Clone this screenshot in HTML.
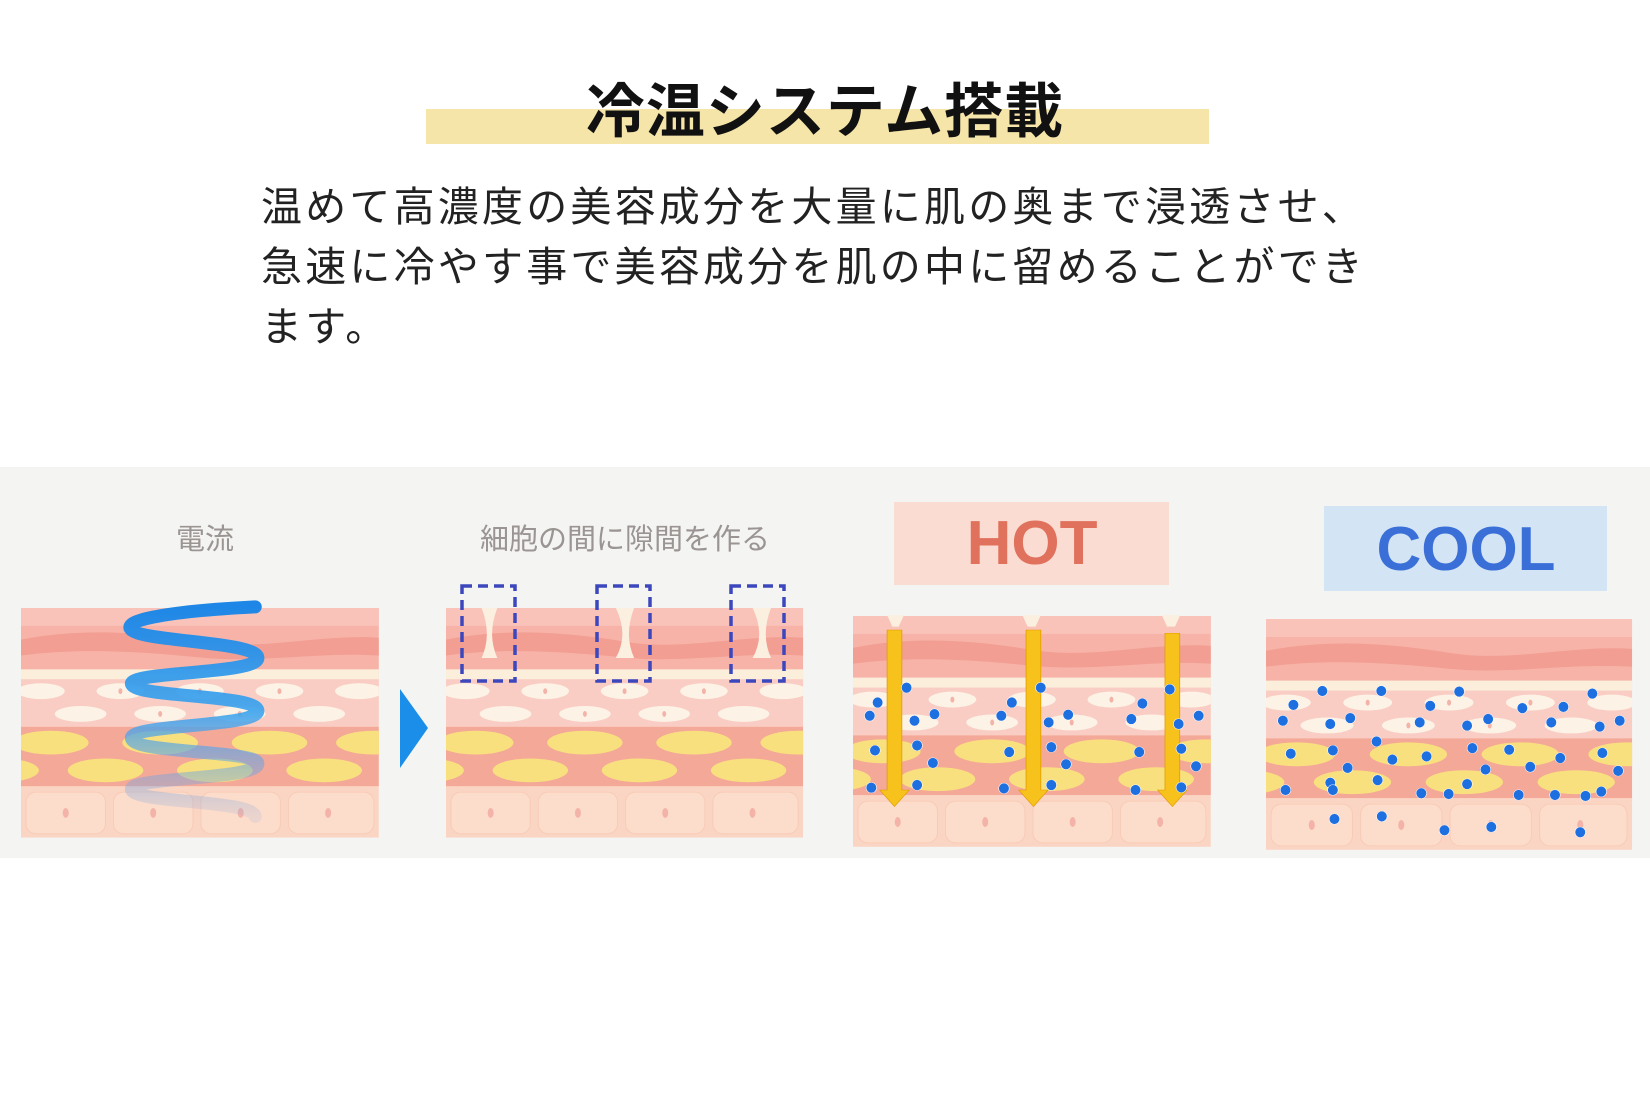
<!DOCTYPE html>
<html><head><meta charset="utf-8"><style>
html,body{margin:0;padding:0;background:#fff;}
body{width:1650px;height:1100px;position:relative;overflow:hidden;font-family:"Liberation Sans","Noto Sans CJK JP",sans-serif;}
.band{position:absolute;left:426px;top:109px;width:783px;height:35px;background:#f6e5a9;}
.title{position:absolute;left:0;width:1650px;top:72px;text-align:center;font-size:59px;font-weight:bold;color:#111;line-height:80px;letter-spacing:1px;}
.para{position:absolute;left:261px;top:177px;font-size:41px;line-height:60px;color:#222;letter-spacing:3.2px;white-space:nowrap;}
svg{position:absolute;left:0;top:0;}
</style></head><body>
<div class="band"></div>
<div class="title">冷温システム搭載</div>
<div class="para">温めて高濃度の美容成分を大量に肌の奥まで浸透させ、<br>急速に冷やす事で美容成分を肌の中に留めることができ<br>ます。</div>
<svg width="1650" height="1100" viewBox="0 0 1650 1100">
<defs>
<clipPath id="cp"><rect x="0" y="0" width="360" height="232"/></clipPath>
<g id="skin" clip-path="url(#cp)">
<rect x="0" y="0" width="360" height="232" fill="#fbd5c3"/>
<rect x="0" y="0" width="360" height="62" fill="#f7b3a8"/>
<rect x="0" y="0" width="360" height="18" fill="#f9c3b9"/>
<path d="M0,32 C60,20 120,24 180,34 C240,44 300,26 360,30 L360,48 C300,44 240,56 180,50 C120,44 60,40 0,48 Z" fill="#f29e92"/>
<rect x="0" y="62" width="360" height="10" fill="#fbefdc"/>
<rect x="0" y="72" width="360" height="48" fill="#f9cdc4"/>
<g fill="#fdf2e6">
<ellipse cx="20" cy="84" rx="24" ry="8"/><ellipse cx="100" cy="84" rx="24" ry="8"/><ellipse cx="180" cy="84" rx="24" ry="8"/><ellipse cx="260" cy="84" rx="24" ry="8"/><ellipse cx="340" cy="84" rx="24" ry="8"/>
<ellipse cx="60" cy="107" rx="26" ry="8"/><ellipse cx="140" cy="107" rx="26" ry="8"/><ellipse cx="220" cy="107" rx="26" ry="8"/><ellipse cx="300" cy="107" rx="26" ry="8"/>
</g>
<rect x="0" y="120" width="360" height="60" fill="#f4a898"/>
<g fill="#f9e07e">
<ellipse cx="30" cy="136" rx="38" ry="12"/><ellipse cx="140" cy="136" rx="38" ry="12"/><ellipse cx="250" cy="136" rx="38" ry="12"/><ellipse cx="355" cy="136" rx="38" ry="12"/>
<ellipse cx="85" cy="164" rx="38" ry="12"/><ellipse cx="195" cy="164" rx="38" ry="12"/><ellipse cx="305" cy="164" rx="38" ry="12"/><ellipse cx="-20" cy="164" rx="38" ry="12"/>
</g>
<g fill="#fcdcca" stroke="#f8cbb6" stroke-width="1">
<rect x="5" y="186" width="80" height="42" rx="10"/><rect x="93" y="186" width="80" height="42" rx="10"/><rect x="181" y="186" width="80" height="42" rx="10"/><rect x="269" y="186" width="86" height="42" rx="10"/>
</g>
<g fill="#f4b3a8"><ellipse cx="45" cy="207" rx="3" ry="5"/><ellipse cx="133" cy="207" rx="3" ry="5"/><ellipse cx="221" cy="207" rx="3" ry="5"/><ellipse cx="309" cy="207" rx="3" ry="5"/>
<ellipse cx="100" cy="84" rx="2" ry="3"/><ellipse cx="180" cy="84" rx="2" ry="3"/><ellipse cx="260" cy="84" rx="2" ry="3"/><ellipse cx="140" cy="107" rx="2" ry="3"/><ellipse cx="220" cy="107" rx="2" ry="3"/></g>
</g>
<linearGradient id="coil" x1="0" y1="0" x2="0" y2="1"><stop offset="0" stop-color="#1e86e6"/><stop offset="0.5" stop-color="#3aa3ee" stop-opacity="0.9"/><stop offset="1" stop-color="#8aa6e0" stop-opacity="0.15"/></linearGradient>
</defs>
<rect x="0" y="467" width="1650" height="391" fill="#f4f4f3"/>
<text x="205" y="549" font-size="29" fill="#9a9492" text-anchor="middle" font-family="Liberation Sans, Noto Sans CJK JP, sans-serif">電流</text>
<text x="625" y="549" font-size="29" fill="#9a9492" text-anchor="middle" font-family="Liberation Sans, Noto Sans CJK JP, sans-serif">細胞の間に隙間を作る</text>
<rect x="894" y="502" width="275" height="83" fill="#fbdcd2"/>
<text x="1032" y="564" font-size="62" fill="#e0715c" text-anchor="middle" font-weight="bold" font-family="Liberation Sans, sans-serif">HOT</text>
<rect x="1324" y="506" width="283" height="85" fill="#d3e5f5"/>
<text x="1466" y="570" font-size="62" fill="#3b6fd8" text-anchor="middle" font-weight="bold" font-family="Liberation Sans, sans-serif">COOL</text>
<use href="#skin" transform="translate(21,608) scale(0.994,0.99)"/>
<use href="#skin" transform="translate(446,608) scale(0.992,0.99)"/>
<use href="#skin" transform="translate(853,616) scale(0.994,0.995)"/>
<use href="#skin" transform="translate(1266,619) scale(1.017,0.995)"/>
<polygon points="400,689 428,728 400,768" fill="#1a8ee8"/>
<g transform="translate(0,460) scale(0.5263,0.330)">
<path d="M485,445 C300,460 230,490 250,515 C270,550 490,550 490,600 C490,650 240,640 250,680 C260,720 490,710 490,760 C490,810 240,800 250,845 C260,890 490,880 490,920 C490,970 240,960 250,1000 C260,1040 480,1030 485,1080" fill="none" stroke="url(#coil)" stroke-width="13" vector-effect="non-scaling-stroke" stroke-linecap="round"/>
<g fill="#fbefe0">
<path d="M915,448 Q935,530 915,600 L945,600 Q925,530 945,448 Z"/>
<path d="M1170,448 Q1195,530 1170,600 L1205,600 Q1185,530 1205,448 Z"/>
<path d="M1430,448 Q1455,530 1430,600 L1465,600 Q1445,530 1465,448 Z"/>
</g>
</g>
<g fill="none" stroke="#3d47bd" stroke-width="3.5" stroke-dasharray="10,6">
<rect x="462" y="586" width="53" height="95"/><rect x="597" y="586" width="53" height="95"/><rect x="731" y="586" width="53" height="95"/>
</g>
<g transform="translate(825,460) scale(0.5263,0.330)">
<g fill="#fbefe0"><path d="M118,470 L128,505 L140,505 L150,470 Z"/><path d="M375,470 L385,505 L400,505 L410,470 Z"/><path d="M640,470 L650,505 L665,505 L675,470 Z"/></g>
<g fill="#f7c21c" stroke="#e09c00" stroke-width="1.5" vector-effect="non-scaling-stroke">
<path d="M118,515 L146,515 L146,1000 L160,1000 L132,1050 L104,1000 L118,1000 Z"/>
<path d="M382,515 L410,515 L410,1000 L424,1000 L396,1050 L368,1000 L382,1000 Z"/>
<path d="M646,525 L674,525 L674,1000 L688,1000 L660,1050 L632,1000 L646,1000 Z"/>
</g>
<g fill="#1e6fe0" stroke="#ffffff" stroke-width="1" vector-effect="non-scaling-stroke">
<ellipse cx="155" cy="690" rx="10" ry="16"/><ellipse cx="100" cy="735" rx="10" ry="16"/><ellipse cx="85" cy="775" rx="10" ry="16"/><ellipse cx="170" cy="790" rx="10" ry="16"/><ellipse cx="208" cy="770" rx="10" ry="16"/><ellipse cx="95" cy="880" rx="10" ry="16"/><ellipse cx="175" cy="865" rx="10" ry="16"/><ellipse cx="205" cy="918" rx="10" ry="16"/><ellipse cx="88" cy="993" rx="10" ry="16"/><ellipse cx="175" cy="985" rx="10" ry="16"/>
<ellipse cx="410" cy="690" rx="10" ry="16"/><ellipse cx="355" cy="735" rx="10" ry="16"/><ellipse cx="335" cy="775" rx="10" ry="16"/><ellipse cx="425" cy="795" rx="10" ry="16"/><ellipse cx="462" cy="772" rx="10" ry="16"/><ellipse cx="350" cy="885" rx="10" ry="16"/><ellipse cx="430" cy="870" rx="10" ry="16"/><ellipse cx="458" cy="922" rx="10" ry="16"/><ellipse cx="340" cy="995" rx="10" ry="16"/><ellipse cx="430" cy="985" rx="10" ry="16"/>
<ellipse cx="655" cy="695" rx="10" ry="16"/><ellipse cx="603" cy="738" rx="10" ry="16"/><ellipse cx="582" cy="785" rx="10" ry="16"/><ellipse cx="672" cy="800" rx="10" ry="16"/><ellipse cx="710" cy="775" rx="10" ry="16"/><ellipse cx="597" cy="885" rx="10" ry="16"/><ellipse cx="677" cy="875" rx="10" ry="16"/><ellipse cx="705" cy="928" rx="10" ry="16"/><ellipse cx="590" cy="1000" rx="10" ry="16"/><ellipse cx="677" cy="992" rx="10" ry="16"/>
<ellipse cx="945" cy="700" rx="10" ry="16"/><ellipse cx="1057" cy="700" rx="10" ry="16"/><ellipse cx="1205" cy="702" rx="10" ry="16"/><ellipse cx="1458" cy="708" rx="10" ry="16"/><ellipse cx="890" cy="742" rx="10" ry="16"/><ellipse cx="1150" cy="745" rx="10" ry="16"/><ellipse cx="1325" cy="752" rx="10" ry="16"/><ellipse cx="1403" cy="748" rx="10" ry="16"/>
<ellipse cx="870" cy="790" rx="10" ry="16"/><ellipse cx="960" cy="800" rx="10" ry="16"/><ellipse cx="998" cy="782" rx="10" ry="16"/><ellipse cx="1130" cy="795" rx="10" ry="16"/><ellipse cx="1220" cy="805" rx="10" ry="16"/><ellipse cx="1260" cy="785" rx="10" ry="16"/><ellipse cx="1380" cy="795" rx="10" ry="16"/><ellipse cx="1472" cy="808" rx="10" ry="16"/><ellipse cx="1510" cy="790" rx="10" ry="16"/>
<ellipse cx="1048" cy="853" rx="10" ry="16"/><ellipse cx="885" cy="890" rx="10" ry="16"/><ellipse cx="965" cy="880" rx="10" ry="16"/><ellipse cx="1078" cy="908" rx="10" ry="16"/><ellipse cx="1143" cy="898" rx="10" ry="16"/><ellipse cx="1230" cy="873" rx="10" ry="16"/><ellipse cx="1300" cy="878" rx="10" ry="16"/><ellipse cx="1397" cy="903" rx="10" ry="16"/><ellipse cx="1477" cy="888" rx="10" ry="16"/>
<ellipse cx="993" cy="933" rx="10" ry="16"/><ellipse cx="1255" cy="938" rx="10" ry="16"/><ellipse cx="1340" cy="930" rx="10" ry="16"/><ellipse cx="1507" cy="942" rx="10" ry="16"/><ellipse cx="960" cy="978" rx="10" ry="16"/><ellipse cx="1050" cy="970" rx="10" ry="16"/><ellipse cx="1220" cy="982" rx="10" ry="16"/>
<ellipse cx="875" cy="1000" rx="10" ry="16"/><ellipse cx="965" cy="1000" rx="10" ry="16"/><ellipse cx="1133" cy="1010" rx="10" ry="16"/><ellipse cx="1185" cy="1012" rx="10" ry="16"/><ellipse cx="1318" cy="1015" rx="10" ry="16"/><ellipse cx="1387" cy="1015" rx="10" ry="16"/><ellipse cx="1445" cy="1018" rx="10" ry="16"/><ellipse cx="1475" cy="1005" rx="10" ry="16"/>
<ellipse cx="968" cy="1088" rx="10" ry="16"/><ellipse cx="1058" cy="1080" rx="10" ry="16"/><ellipse cx="1177" cy="1122" rx="10" ry="16"/><ellipse cx="1266" cy="1112" rx="10" ry="16"/><ellipse cx="1435" cy="1128" rx="10" ry="16"/>
</g>
</g>
</svg>
</body></html>
